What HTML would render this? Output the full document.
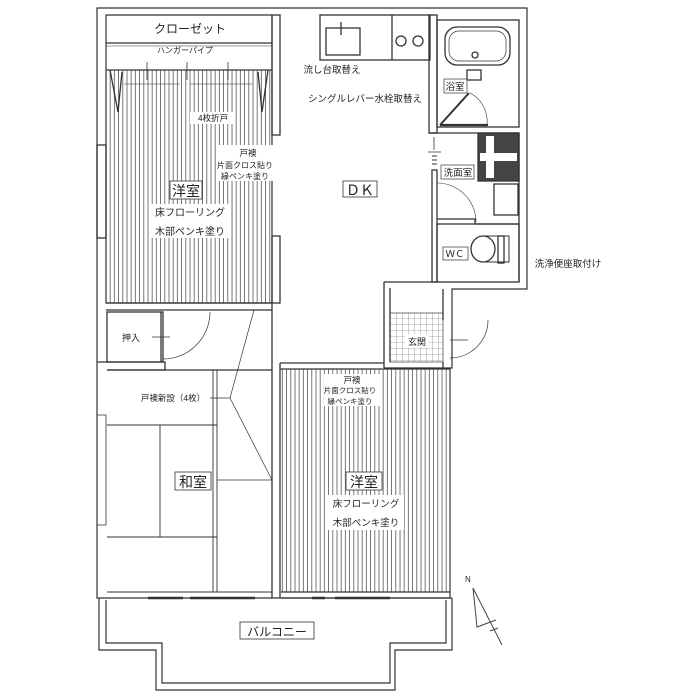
<!DOCTYPE html>
<html><head><meta charset="utf-8"><style>
html,body{margin:0;padding:0;background:#fff;}
svg{display:block;}
text{font-family:"Liberation Sans","Noto Sans CJK JP",sans-serif;fill:#222;}
</style></head><body>
<svg width="700" height="700" viewBox="0 0 700 700" xmlns="http://www.w3.org/2000/svg">
<defs>
<pattern id="fl" width="4.2" height="10" patternUnits="userSpaceOnUse">
<line x1="1" y1="0" x2="1" y2="10" stroke="#555" stroke-width="0.8"/>
</pattern>
<pattern id="tile" width="6" height="6" patternUnits="userSpaceOnUse">
<path d="M0 0H6M0 0V6" stroke="#666" stroke-width="0.6" fill="none"/>
</pattern>
</defs>
<g stroke="#333" stroke-width="1.2" fill="none">
<path d="M97 8H527V289H452V368H450V598H97Z" />
<path d="M106 15H272V303H106Z"/>
<path d="M99 598V650H156V690H395V650H452V598"/>
<path d="M106 600V643H162V683H390V643H446V600"/>
</g>
<rect x="107" y="70" width="165" height="233" fill="url(#fl)"/>
<rect x="281" y="369" width="169" height="223" fill="url(#fl)"/>
<rect x="390" y="313" width="53" height="49" fill="url(#tile)" stroke="#555" stroke-width="0.8"/>
<g stroke="#333" stroke-width="1.3" fill="none">
<line x1="106" y1="43" x2="272" y2="43"/>
<line x1="106" y1="46" x2="272" y2="46" stroke-width="0.6"/>
<line x1="106" y1="70" x2="272" y2="70"/>
<path d="M110 70L118 112L122 72M268 70L262 112L258 72"/>
<path d="M124 84H180M190 84H253" stroke-width="0.6"/>
<path d="M147 62V80M187 62V80M228 62V80" stroke-width="0.8"/>
<rect x="272" y="15" width="8" height="120"/>
<rect x="272" y="236" width="8" height="67"/>
<rect x="97" y="145" width="9" height="93" />
<rect x="320" y="15" width="110" height="45"/>
<rect x="326" y="28" width="34" height="27"/>
<line x1="341" y1="22" x2="341" y2="35"/>
<line x1="392" y1="15" x2="392" y2="60"/>
<circle cx="401" cy="41" r="5"/><circle cx="418" cy="41" r="5"/>
<rect x="429" y="15" width="8" height="118"/>
<rect x="432" y="170" width="5" height="112"/>
<path d="M429 133H437"/>
<path d="M434 137V150M428 152H441" stroke-width="0.8"/>
<path d="M432 156h5M432 160h5M432 164h5" stroke-width="1"/>
<rect x="437" y="20" width="82" height="107"/>
<rect x="445" y="27" width="65" height="38" rx="12"/>
<rect x="449" y="31" width="57" height="30" rx="10" stroke-width="0.7"/>
<circle cx="475" cy="55" r="3"/>
<rect x="467" y="70" width="14" height="10"/>
<path d="M440 125L469 93" stroke-width="2"/>
<path d="M470 93A32 32 0 0 1 487 125" stroke-width="0.6"/>
<path d="M440 125H488" stroke-width="2.2"/>
<line x1="437" y1="133" x2="519" y2="133"/>
<rect x="478" y="133" width="41" height="48" fill="#444"/>
<path d="M490 136V178M480 157H517" stroke="#fff" stroke-width="8"/>
<rect x="494" y="184" width="24" height="31"/>
<line x1="519" y1="133" x2="519" y2="282"/>
<path d="M437 183A39 39 0 0 1 476 222" stroke-width="0.6"/>
<path d="M437 219H475V224H519" />
<rect x="437" y="224" width="82" height="58"/>
<path d="M485 236h24v26h-24" stroke-width="1"/>
<ellipse cx="483" cy="249" rx="12" ry="13"/>
<rect x="498" y="236" width="6" height="27"/>
<path d="M384 282H437M384 282V368M390 288V362M384 368H450M443 289V320M443 362V368"/>
<path d="M488 320A38 38 0 0 1 450 358" stroke-width="0.7"/>
<path d="M450 340H468" stroke-width="0.7"/>
<path d="M280 363H384M280 369H450M280 363V598M272 303V598M272 370V592"/>
<path d="M281 592H450M281 598H452" />
<rect x="107" y="312" width="56" height="50"/>
<path d="M161 312V362"/>
<path d="M106 303H272M106 310H272"/>
<path d="M210 312A47 47 0 0 1 163 359" stroke-width="0.7"/>
<path d="M97 362H165V370H107"/>
<path d="M107 370H272"/>
<path d="M217 370V592M213 370V592M107 425H217M160 425V537M107 537H217M107 592H272" stroke-width="0.9"/>
<path d="M254 310L230 398L272 480" stroke-width="0.7"/>
<path d="M217 480H272M210 398H230" stroke-width="0.7"/>
<path d="M97 415H106V525H97" stroke-width="0.8"/>
<path d="M148 598H183M190 598H255M312 598H325M335 598H390" stroke-width="2.5"/>
<path d="M280 8H320M333 8H380" stroke-width="0.8"/>
</g>
<g stroke="#444" stroke-width="1" fill="none">
<path d="M473 588L502 645M473 588L477 627L496 620M490 631L498 628"/>
</g>
<text x="465" y="582" font-size="8">N</text>
<g>
<text x="190" y="33" font-size="12" text-anchor="middle">クローゼット</text>
<text x="185" y="53" font-size="8" text-anchor="middle">ハンガーパイプ</text>
<rect x="190" y="112" width="45" height="12" fill="#fff"/>
<text x="213" y="121" font-size="8.5" text-anchor="middle">4枚折戸</text>
<rect x="216" y="145" width="58" height="36" fill="#fff"/>
<text x="248" y="156" font-size="8.5" text-anchor="middle">戸襖</text>
<text x="245" y="168" font-size="8" text-anchor="middle">片面クロス貼り</text>
<text x="245" y="179" font-size="8" text-anchor="middle">縁ペンキ塗り</text>
<rect x="170" y="181" width="32" height="18" fill="#fff" stroke="#333" stroke-width="0.8"/>
<text x="186" y="196" font-size="14" text-anchor="middle">洋室</text>
<rect x="150" y="204" width="80" height="34" fill="#fff"/>
<text x="190" y="216" font-size="10" text-anchor="middle">床フローリング</text>
<text x="190" y="235" font-size="10" text-anchor="middle">木部ペンキ塗り</text>
<text x="332" y="73" font-size="9.5" text-anchor="middle">流し台取替え</text>
<text x="365" y="102" font-size="9.5" text-anchor="middle">シングルレバー水栓取替え</text>
<rect x="343" y="181" width="34" height="16" fill="#fff" stroke="#333" stroke-width="0.8"/>
<text x="360" y="195" font-size="14" text-anchor="middle">ＤＫ</text>
<rect x="444" y="79" width="23" height="14" fill="#fff" stroke="#333" stroke-width="0.7"/>
<text x="455" y="90" font-size="9.5" text-anchor="middle">浴室</text>
<rect x="441" y="165" width="33" height="14" fill="#fff" stroke="#333" stroke-width="0.7"/>
<text x="458" y="176" font-size="9.5" text-anchor="middle">洗面室</text>
<rect x="443" y="247" width="25" height="13" fill="#fff" stroke="#333" stroke-width="0.7"/>
<text x="455" y="257" font-size="9.5" text-anchor="middle">ＷＣ</text>
<text x="568" y="267" font-size="9.5" text-anchor="middle">洗浄便座取付け</text>
<text x="131" y="341" font-size="9" text-anchor="middle">押入</text>
<line x1="152" y1="337" x2="170" y2="337" stroke="#333" stroke-width="0.7"/>
<rect x="405" y="334" width="24" height="14" fill="#fff"/>
<text x="417" y="345" font-size="9" text-anchor="middle">玄関</text>
<text x="173" y="401" font-size="8.5" text-anchor="middle">戸襖新設（4枚）</text>
<rect x="175" y="472" width="36" height="18" fill="#fff" stroke="#333" stroke-width="0.8"/>
<text x="193" y="487" font-size="14" text-anchor="middle">和室</text>
<rect x="324" y="374" width="56" height="32" fill="#fff"/>
<text x="352" y="383" font-size="8.5" text-anchor="middle">戸襖</text>
<text x="350" y="393" font-size="7.5" text-anchor="middle">片面クロス貼り</text>
<text x="350" y="404" font-size="7.5" text-anchor="middle">縁ペンキ塗り</text>
<rect x="346" y="472" width="36" height="18" fill="#fff" stroke="#333" stroke-width="0.8"/>
<text x="364" y="487" font-size="14" text-anchor="middle">洋室</text>
<rect x="328" y="495" width="76" height="35" fill="#fff"/>
<text x="366" y="507" font-size="9.5" text-anchor="middle">床フローリング</text>
<text x="366" y="526" font-size="9.5" text-anchor="middle">木部ペンキ塗り</text>
<rect x="240" y="622" width="74" height="17" fill="#fff" stroke="#333" stroke-width="0.8"/>
<text x="277" y="636" font-size="12" text-anchor="middle">バルコニー</text>
</g>
</svg>
</body></html>
